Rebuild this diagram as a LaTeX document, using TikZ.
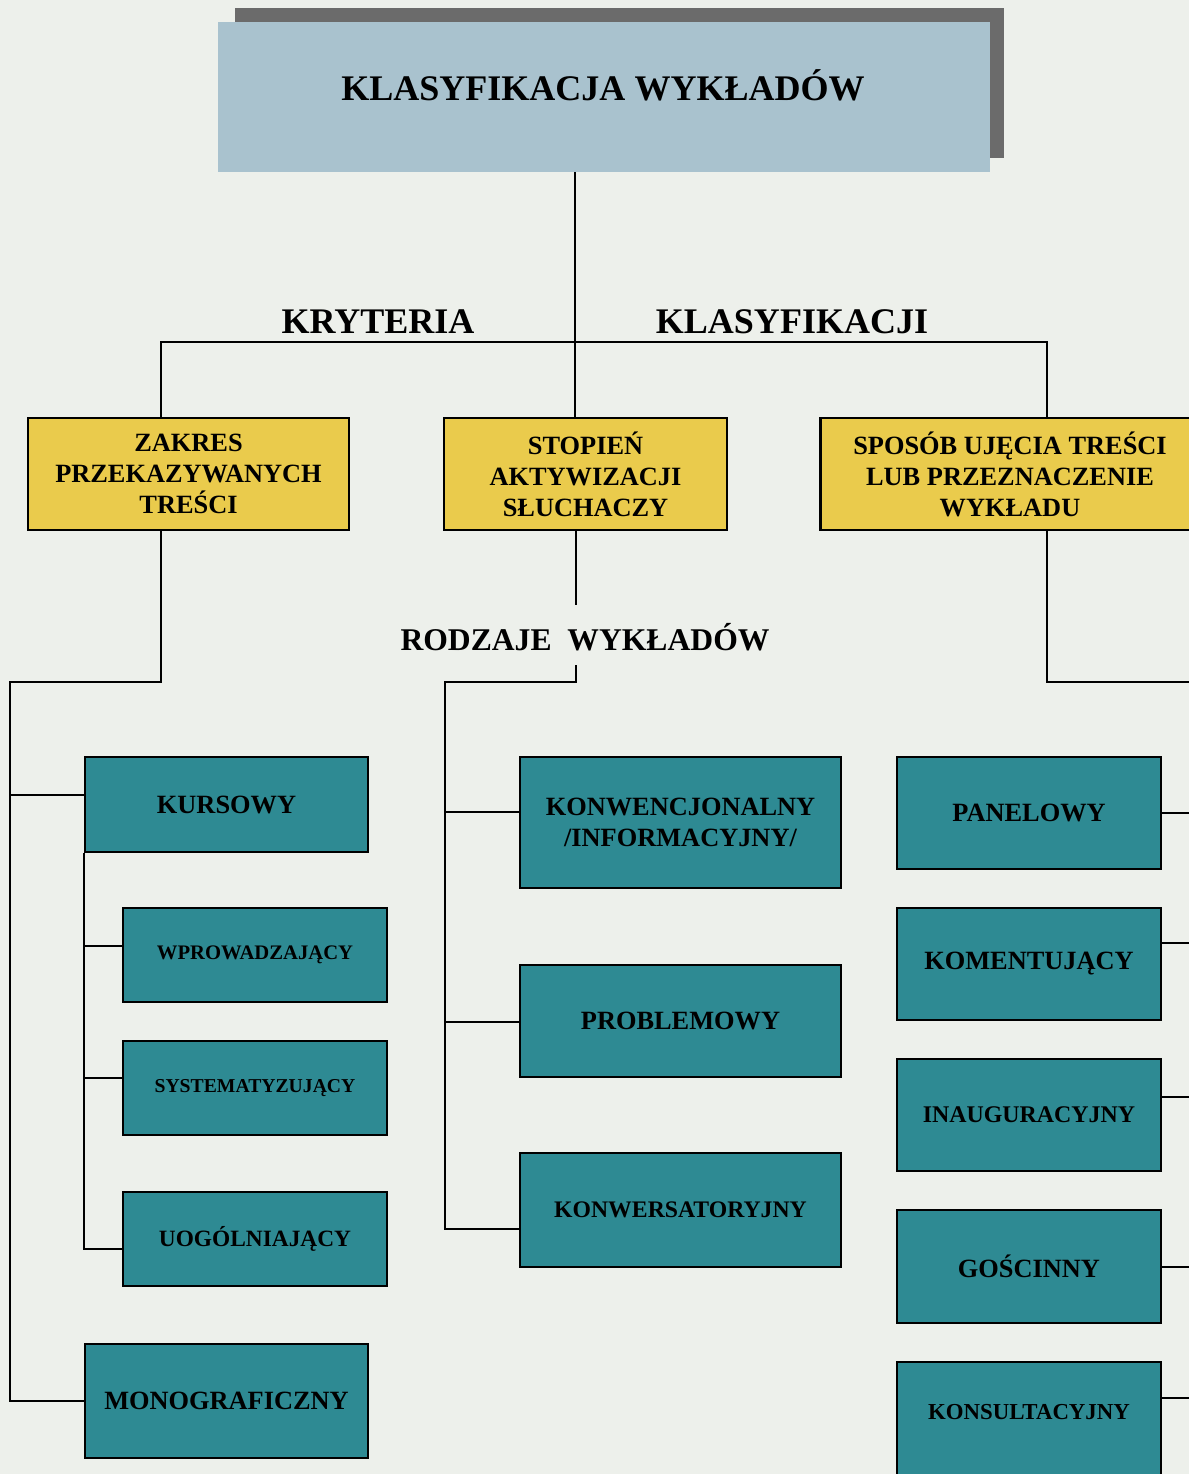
\documentclass[tikz,border=0pt]{standalone}
\usepackage{fontspec}
\setmainfont{Liberation Serif}
\usetikzlibrary{calc}
\definecolor{paper}{HTML}{EDF0EB}
\definecolor{titleblue}{HTML}{A9C2CE}
\definecolor{shadowgray}{HTML}{6B6B6B}
\definecolor{crityellow}{HTML}{EACB4C}
\definecolor{kindteal}{HTML}{2E8A93}
\tikzset{
	crit/.style={draw=black, line width=1.3pt, fill=crityellow, inner sep=0pt, align=center,
		font=\fontsize{15}{17.6}\selectfont\bfseries},
	kind/.style={draw=black, line width=1.3pt, fill=kindteal, inner sep=0pt, align=center,
		font=\fontsize{15}{18}\selectfont\bfseries},
	small/.style={font=\fontsize{#1}{16}\selectfont\bfseries},
	conn/.style={line width=1.2pt, color=black},
	head/.style={font=\fontsize{20.5}{24}\selectfont\bfseries}
}
\begin{document}
\begin{tikzpicture}[x=0.02cm, y=-0.02cm]
		%%%%% PAGE %%%%%
		\useasboundingbox (0, 0) rectangle (1189, 1474);
		\clip (0, 0) rectangle (1189, 1474);
		\fill[paper] (0, 0) rectangle (1189, 1474);
		
		%%%%% TITLE %%%%%
		\fill[shadowgray] (235, 8) rectangle (1004, 158);
		\node[fill=titleblue, inner sep=0pt, minimum width=15.44cm, minimum height=3cm] (title) at (604, 97) {};
		\node[head] (titletext) at (603, 85) {KLASYFIKACJA WYKŁADÓW};
		
		%%%%% CRITERIA %%%%%
		\node[crit, minimum width=6.42cm, minimum height=2.24cm] (zakres) at (188.5, 474) {ZAKRES\\PRZEKAZYWANYCH\\TREŚCI};
		\node[crit, minimum width=5.66cm, minimum height=2.24cm] (stopien) at (585.5, 474) {STOPIEŃ\\AKTYWIZACJI\\SŁUCHACZY};
		\node[crit, minimum width=7.58cm, minimum height=2.24cm] (sposob) at (1010, 474) {SPOSÓB UJĘCIA TREŚCI\\LUB PRZEZNACZENIE\\WYKŁADU};
		
		\node[head] (kryteria) at (378, 322) {KRYTERIA};
		\node[head] (klasyf) at (792, 322) {KLASYFIKACJI};
		
		\coordinate (hub) at (575, 342);
		\coordinate (kl) at (161, 342);
		\coordinate (kr) at (1047, 342);
		\draw[conn] (title.south -| hub) -- (stopien.north -| hub);
		\draw[conn] (zakres.north -| kl) |- (kr) -- (sposob.north -| kr);
		
		%%%%% LEFT COLUMN %%%%%
		\node[kind, minimum width=5.66cm, minimum height=1.9cm] (kursowy) at (226.5, 804.5) {KURSOWY};
		\node[kind, small=11.75, minimum width=5.28cm, minimum height=1.88cm] (wprow) at (255, 955) {WPROWADZAJĄCY};
		\node[kind, small=11.2, minimum width=5.28cm, minimum height=1.88cm] (system) at (255, 1088) {SYSTEMATYZUJĄCY};
		\node[kind, small=13.3, minimum width=5.28cm, minimum height=1.88cm] (uogol) at (255, 1239) {UOGÓLNIAJĄCY};
		\node[kind, minimum width=5.66cm, minimum height=2.28cm] (monogr) at (226.5, 1401) {MONOGRAFICZNY};
		
		\coordinate (lb) at (10, 682);
		\draw[conn] (zakres.south -| kl) |- (lb) |- (monogr.west);
		\draw[conn] (lb |- 0, 795) -- (kursowy.west |- 0, 795);
		\draw[conn] (kursowy.south west) |- (uogol.west |- 0, 1249);
		\foreach \n/\y in {wprow/946, system/1078}
			\draw[conn] (kursowy.south west |- 0, \y) -- (\n.west |- 0, \y);
		
		%%%%% MIDDLE COLUMN %%%%%
		\node[kind, minimum width=6.42cm, minimum height=2.62cm] (konw) at (680.5, 822.5) {KONWENCJONALNY\\/INFORMACYJNY/};
		\node[kind, minimum width=6.42cm, minimum height=2.24cm] (probl) at (680.5, 1021) {PROBLEMOWY};
		\node[kind, small=13.5, minimum width=6.42cm, minimum height=2.28cm] (konwers) at (680.5, 1210) {KONWERSATORYJNY};
		
		\node[font=\fontsize{18}{22}\selectfont\bfseries] (rodzaje) at (585, 637) {RODZAJE~~WYKŁADÓW};
		
		\coordinate (mgap) at (576, 605);
		\coordinate (mtop) at (576, 665);
		\coordinate (mb) at (445, 682);
		\draw[conn] (stopien.south -| mgap) -- (mgap);
		\draw[conn] (mtop) |- (mb) |- (konwers.west |- 0, 1229);
		\foreach \n/\y in {konw/812, probl/1022}
			\draw[conn] (mb |- 0, \y) -- (\n.west |- 0, \y);
		
		%%%%% RIGHT COLUMN %%%%%
		\node[kind, minimum width=5.28cm, minimum height=2.24cm] (panel) at (1029, 813) {PANELOWY};
		\node[kind, minimum width=5.28cm, minimum height=2.24cm] (koment) at (1029, 964) {KOMENTUJĄCY};
		\node[kind, small=13.6, minimum width=5.28cm, minimum height=2.24cm] (inaug) at (1029, 1115) {INAUGURACYJNY};
		\node[kind, minimum width=5.28cm, minimum height=2.26cm] (gosc) at (1029, 1266.5) {GOŚCINNY};
		\node[kind, small=13, text depth=0.5cm, minimum width=5.28cm, minimum height=2.48cm] (konsult) at (1029, 1424) {KONSULTACYJNY};
		
		\coordinate (re) at (1195, 682);
		\draw[conn] (sposob.south -| kr) |- (re);
		\foreach \n/\y in {panel/813, koment/943, inaug/1097, gosc/1267, konsult/1398}
			\draw[conn] (\n.east |- 0, \y) -- (re |- 0, \y);
		
		%%%%% END %%%%%
	\end{tikzpicture}
\end{document}
